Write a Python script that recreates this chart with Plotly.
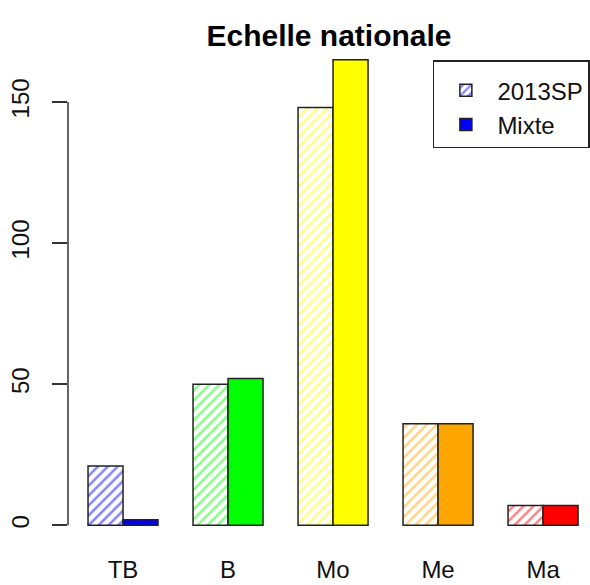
import plotly.graph_objects as go

categories = ["TB", "B", "Mo", "Me", "Ma"]
sp2013 = [21, 50, 148, 36, 7]
mixte = [2, 52, 165, 36, 7]
colors = ["#0000FF", "#00FF00", "#FFFF00", "#FFA500", "#FF0000"]
y_ticks = [0, 50, 100, 150]
series_names = ["2013SP", "Mixte"]
title_text = "Echelle nationale"

font_family = "Liberation Sans, Arial, sans-serif"

fig = go.Figure()
fig.add_trace(go.Bar(
    x=categories, y=sp2013, name=series_names[0],
    marker=dict(
        color="white",
        line=dict(color="#222", width=1.5),
        pattern=dict(shape="/", fgcolor=colors, bgcolor="white", size=7, solidity=0.35),
    ),
))
fig.add_trace(go.Bar(
    x=categories, y=mixte, name=series_names[1],
    marker=dict(color=colors, line=dict(color="#222", width=1.5)),
))

ymax = max(max(sp2013), max(mixte))
yr = [-0.04 * ymax, ymax * 1.04]

fig.add_shape(type="line", xref="paper", yref="y", x0=0, x1=0,
              y0=y_ticks[0], y1=y_ticks[-1], line=dict(color="#333", width=1.5))

fig.update_layout(
    width=590, height=585,
    margin=dict(l=68, r=0, t=41, b=41, autoexpand=False),
    paper_bgcolor="white", plot_bgcolor="white",
    barmode="group", bargap=1/3, bargroupgap=0,
    font=dict(family=font_family, size=24, color="#111"),
    title=dict(text="<b>" + title_text + "</b>", x=0.5, xref="paper",
               y=1 - 35 / 585, yref="container", yanchor="middle",
               font=dict(size=30, color="black")),
    showlegend=True,
    legend=dict(x=0.699, y=0.962, xanchor="left", yanchor="top",
                bordercolor="#222", borderwidth=1.5, bgcolor="white",
                font=dict(size=24), itemwidth=53, tracegroupgap=0,
                title=dict(text=" ", font=dict(size=5))),
    xaxis=dict(range=[-0.524, 4.447], showline=False, zeroline=False,
               showgrid=False, ticks="outside", ticklen=4, automargin=False,
               tickcolor="rgba(0,0,0,0)"),
    yaxis=dict(range=yr, showline=False, zeroline=False, showgrid=False,
               tickvals=y_ticks, ticks="outside", ticklen=15, tickwidth=1.5,
               tickcolor="#333", tickangle=-90, automargin=False,
               ticklabelstandoff=13),
)

fig.write_html("out.html", config={"displayModeBar": False},
               post_script="document.body.style.margin='0';document.body.style.overflow='hidden';")
